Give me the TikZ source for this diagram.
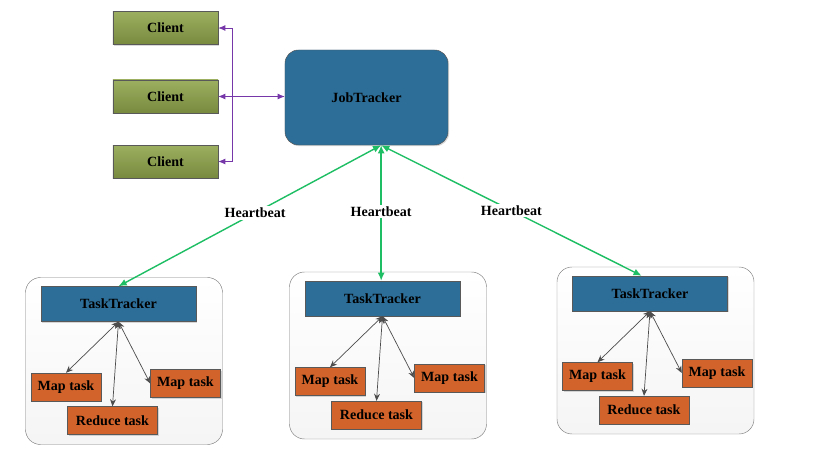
\documentclass[tikz,border=0pt]{standalone}
\usepackage{fontspec}
\setmainfont{Liberation Serif}
\usetikzlibrary{arrows.meta,shadows}
\definecolor{clienttop}{RGB}{156,175,96}
\definecolor{clientbot}{RGB}{120,138,62}
\definecolor{trackblue}{RGB}{44,110,152}
\definecolor{taskorange}{RGB}{210,99,42}
\definecolor{beatgreen}{RGB}{30,190,100}
\definecolor{askpurple}{RGB}{118,56,168}

\begin{document}
\begin{tikzpicture}[x=0.03cm, y=-0.03cm,
    font=\fontsize{12}{14}\selectfont\bfseries,
    shade/.style={drop shadow={shadow xshift=1pt, shadow yshift=-1pt, opacity=0.3}},
    client/.style={draw=black!65, top color=clienttop, bottom color=clientbot,
        minimum width=3.15cm, minimum height=0.99cm, shade},
    tracker/.style={draw=black!65, fill=trackblue, minimum width=4.65cm,
        minimum height=1.05cm, shade},
    task/.style={draw=black!65, fill=taskorange, minimum height=0.84cm, shade},
    group/.style={draw=black!50, top color=white, bottom color=black!4,
        rounded corners=0.45cm, minimum width=5.91cm, minimum height=5.01cm},
    beat/.style={draw=beatgreen, line width=1.2pt,
        {Latex[length=7pt,width=6pt]}-{Latex[length=7pt,width=6pt]}},
    ask/.style={draw=askpurple, line width=0.7pt,
        {Latex[length=6pt,width=5pt]}-{Latex[length=6pt,width=5pt]}},
    link/.style={draw=black!70, line width=0.6pt,
        {Stealth[length=6pt,width=5pt]}-{Stealth[length=6pt,width=5pt]}},
    hb/.style={fill=white, inner sep=1.5pt}]
    \useasboundingbox (0,0) rectangle (833,449);

    % clients and job tracker
    \node[client] (c1) at (165.5,28) {Client};
    \node[client] (c2) at (165.5,96.5) {Client};
    \node[client] (c3) at (165.5,161.5) {Client};
    \node[draw=black!65, fill=trackblue, rounded corners=0.4cm,
        minimum width=4.89cm, minimum height=2.85cm, shade] (jt) at (366.5,97.5) {JobTracker};
    \coordinate (bus) at (232,0);
    \coordinate (jtport) at ([xshift=0.44cm]jt.south);

    \draw[ask] (c1.east) -- (c1.east -| bus) -- (c3.east -| bus) -- (c3.east);
    \draw[ask] (c2.east) -- (c2.east -| jt.west);

    % task trackers
    \foreach \i/\x/\y in {1/118.5/304, 2/382.5/298.5, 3/650/293.5} {
        \begin{scope}[shift={(\x,\y)}]
            \node[group] (grp\i) at (5.5,57) {};
            \node[tracker] (tt\i) at (0,0) {TaskTracker};
            \node[task, minimum width=2.1cm] (ml\i) at (-52.5,83) {Map task};
            \node[task, minimum width=2.7cm] (rd\i) at (-6,116.5) {Reduce task};
            \node[task, minimum width=2.1cm] (mr\i) at (67,79.5) {Map task};
            \draw[link] (tt\i.south) -- (ml\i.north);
            \draw[link] (tt\i.south) -- (rd\i.north);
            \draw[link] (tt\i.south) -- (mr\i.west);
        \end{scope}
    }

    % heartbeats
    \draw[beat] (jtport) -- (tt1.north) node[hb, pos=0.48] {Heartbeat};
    \draw[beat] (jtport) -- (jtport |- tt2.north) node[hb, pos=0.49] {Heartbeat};
    \draw[beat] (jtport) -- ([xshift=-0.25cm]tt3.north) node[hb, pos=0.5] {Heartbeat};
\end{tikzpicture}
\end{document}
